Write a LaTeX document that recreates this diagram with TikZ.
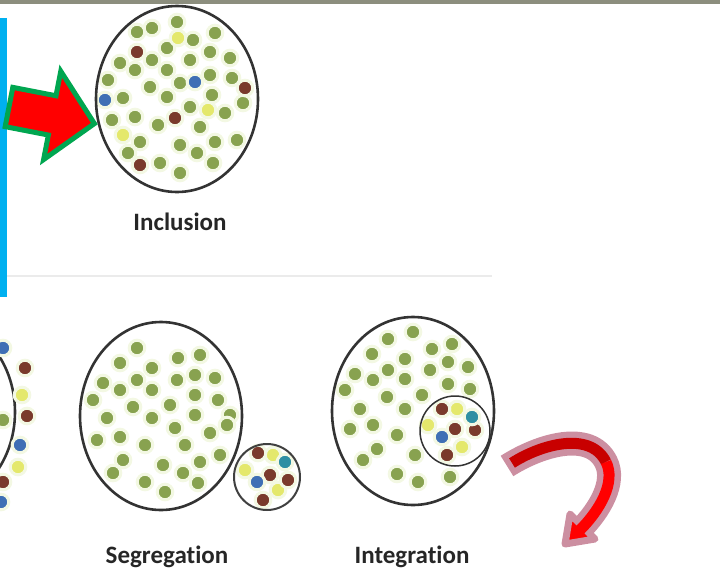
\documentclass[tikz,border=0pt]{standalone}
\usepackage{fontspec}
\newfontfamily\capfont[Ligatures=NoCommon]{Carlito}
\definecolor{topbar}{HTML}{8C8E7E}
\definecolor{sky}{HTML}{00B0F0}
\definecolor{leaf}{HTML}{88A250}
\definecolor{halo}{HTML}{F3F8E3}
\definecolor{rust}{HTML}{7A3A2C}
\definecolor{cobalt}{HTML}{3F6FB5}
\definecolor{lagoon}{HTML}{2E8FA3}
\definecolor{butter}{HTML}{E4E86C}
\definecolor{hotred}{HTML}{FF0000}
\definecolor{deepred}{HTML}{C80000}
\definecolor{leafgreen}{HTML}{00A650}
\definecolor{mauve}{HTML}{CC8FA1}
% one dot colour, many positions
\newcommand\dotset[2]{\foreach \p in {#2} {\filldraw[fill=#1,draw=halo,line width=3pt] \p circle (7.8pt);}}

\begin{document}
\begin{tikzpicture}[x=1pt,y=-1pt,
  ring/.style={draw=black!80,line width=2.6pt},
  caption/.style={font=\capfont\bfseries\fontsize{25}{30}\selectfont,text=black!85,inner sep=0pt,anchor=base}]
\useasboundingbox (0,0) rectangle (720,576);
\fill[topbar] (0,0) rectangle (720,4);
\fill[sky] (0,18) rectangle (7,297);
\draw[black!8,line width=2pt] (7,276) -- (492,276);

% inclusion
\dotset{leaf}{(177,22),(152,28),(137,32),(193,40),(215,33),(167,48),(210,52),(230,58),(152,60),(190,60),(120,63),(135,70),(167,70),(108,80),(150,87),(180,83),(210,75),(232,78),(123,98),(167,97),(190,107),(212,95),(243,103),(135,117),(225,113),(112,120),(158,125),(200,127),(140,142),(180,145),(215,142),(237,140),(128,153),(197,153),(160,163),(213,163),(180,173)}
\dotset{rust}{(137,52),(245,88),(175,118),(140,165)}
\dotset{cobalt}{(195,82),(105,100)}
\dotset{butter}{(178,38),(208,110),(123,135)}
\draw[ring] (177,99) ellipse (81pt and 93pt);
\node[caption] (incl) at (180,230) {Inclusion};

% exclusion, cut at the left edge
\begin{scope}
\clip (0,300) rectangle (60,576);
\draw[ring] (-66,412) ellipse (81pt and 94pt);
\dotset{leaf}{(3,420)}
\dotset{rust}{(25,368),(27,416),(3,482)}
\dotset{cobalt}{(3,348),(20,445),(1,502)}
\dotset{butter}{(22,395),(18,467)}
\end{scope}

% segregation
\dotset{leaf}{(137,348),(120,363),(178,358),(200,355),(152,368),(195,375),(215,378),(103,383),(137,380),(120,390),(152,390),(177,380),(93,400),(133,407),(170,405),(195,395),(218,400),(107,418),(152,418),(195,415),(230,415),(227,425),(175,428),(210,433),(97,440),(120,437),(145,445),(185,445),(123,460),(163,465),(200,462),(220,455),(113,473),(183,473),(145,482),(198,483),(165,492)}
\draw[ring] (161,416) ellipse (81pt and 94pt);
\dotset{butter}{(273,455),(245,470),(278,490)}
\dotset{rust}{(258,453),(270,475),(288,480),(263,500)}
\dotset{lagoon}{(285,462)}
\dotset{cobalt}{(257,482)}
\draw[draw=black!75,line width=2pt] (267,477) circle (33pt);
\node[caption] (segr) at (167,563) {Segregation};

% integration
\dotset{leaf}{(413,332),(388,339),(432,349),(452,344),(372,354),(405,359),(448,362),(468,367),(355,374),(388,370),(405,379),(430,370),(373,380),(345,390),(387,397),(422,395),(448,384),(470,389),(360,409),(405,409),(350,429),(373,425),(397,435),(377,449),(415,455),(363,460),(397,474),(418,482),(450,477)}
\dotset{butter}{(457,409),(428,425),(462,447)}
\dotset{rust}{(442,409),(455,429),(475,430),(447,455)}
\dotset{lagoon}{(472,417)}
\dotset{cobalt}{(442,437)}
\draw[draw=black!80,line width=1.5pt] (455,431) circle (35pt);
\draw[ring] (413,411) ellipse (81pt and 94pt);
\node[caption] (integ) at (412,563) {Integration};

% block arrow pointing at the inclusion circle
\begin{scope}[shift={(9,107)},rotate=-11]
\filldraw[fill=hotred,draw=leafgreen,line width=5pt] (0,-20) -- (44,-20) -- (44,-45) -- (87,0) -- (44,45) -- (44,20) -- (0,20) -- cycle;
\end{scope}

% curved arrow
\draw[mauve,line width=24pt] (507,466) .. controls (540,445) and (590,430) .. (606,462) .. controls (616,482) and (600,510) .. (580,530);
\filldraw[fill=hotred,draw=mauve,line width=7pt,line join=round] (570,514) -- (595,539) -- (565,544) -- cycle;
\draw[deepred,line width=11pt] (512,463) .. controls (540,445) and (590,430) .. (606,462);
\draw[hotred,line width=11pt] (606,462) .. controls (616,482) and (600,510) .. (580,530);
\end{tikzpicture}
\end{document}
